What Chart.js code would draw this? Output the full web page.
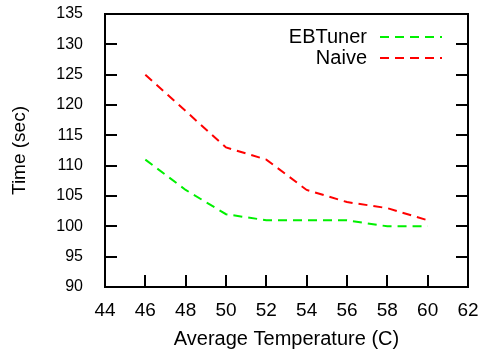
<!DOCTYPE html>
<html>
<head>
<meta charset="utf-8">
<script src="https://cdn.jsdelivr.net/npm/chart.js@4"></script>
<style>
  html, body { margin: 0; padding: 0; background: #fff; }
  #wrap { width: 481px; height: 352px; }
</style>
</head>
<body>
<div id="wrap"><canvas id="chart" width="481" height="352"></canvas></div>
<script>
// 데이터
const temps = [46, 48, 50, 52, 54, 56, 58, 60];
const ebtuner = [111, 106, 102, 101, 101, 101, 100, 100];
const naive = [125, 119, 113, 111, 106, 104, 103, 101];

const FONT = "'Liberation Sans', Arial, sans-serif";

function toPoints(ys) {
    return temps.map((t, i) => ({ x: t, y: ys[i] }));
}

// 테두리 + 안쪽 눈금 (gnuplot 스타일)
const frame = {
    id: 'frame',
    afterDatasetsDraw(chart) {
        const { ctx, chartArea: a, scales } = chart;
        ctx.save();
        ctx.strokeStyle = '#000';
        ctx.lineWidth = 2;
        ctx.strokeRect(a.left, a.top, a.right - a.left, a.bottom - a.top);
        const len = 12;
        ctx.beginPath();
        scales.x.ticks.forEach(t => {
            const px = Math.round(scales.x.getPixelForValue(t.value));
            ctx.moveTo(px, a.bottom);
            ctx.lineTo(px, a.bottom - len);
        });
        scales.y.ticks.forEach(t => {
            const py = Math.round(scales.y.getPixelForValue(t.value));
            ctx.moveTo(a.left, py);
            ctx.lineTo(a.left + len, py);
            ctx.moveTo(a.right, py);
            ctx.lineTo(a.right - len, py);
        });
        ctx.stroke();

        // 범례: 글자 오른쪽에 점선 샘플
        ctx.font = '20px ' + FONT;
        ctx.textAlign = 'right';
        ctx.textBaseline = 'middle';
        chart.data.datasets.forEach((ds, i) => {
            const y = a.top + 23 + i * 21;
            ctx.fillStyle = '#000';
            ctx.fillText(ds.label, a.right - 101, y);
            ctx.strokeStyle = ds.borderColor;
            ctx.lineWidth = 2;
            ctx.setLineDash(ds.borderDash);
            ctx.beginPath();
            ctx.moveTo(a.right - 88, y);
            ctx.lineTo(a.right - 26, y);
            ctx.stroke();
            ctx.setLineDash([]);
        });
        ctx.restore();
    }
};

new Chart(document.getElementById('chart'), {
    type: 'line',
    data: {
        datasets: [
            {
                label: 'EBTuner',
                data: toPoints(ebtuner),
                borderColor: '#00f000',
                borderWidth: 2,
                borderDash: [9, 6],
                pointRadius: 0,
                tension: 0
            },
            {
                label: 'Naive',
                data: toPoints(naive),
                borderColor: '#ff0000',
                borderWidth: 2,
                borderDash: [9, 6],
                pointRadius: 0,
                tension: 0
            }
        ]
    },
    options: {
        responsive: false,
        animation: false,
        layout: { padding: { top: 14, right: 13, left: 0, bottom: 0 } },
        plugins: { legend: { display: false }, tooltip: { enabled: false } },
        scales: {
            x: {
                type: 'linear',
                min: 44,
                max: 62,
                afterFit: s => { s.height = 65; s.paddingLeft = 0; s.paddingRight = 0; },
                ticks: { stepSize: 2, color: '#000', font: { family: FONT, size: 19 }, padding: 12, maxRotation: 0 },
                grid: { display: false, drawTicks: false },
                border: { display: false },
                title: { display: true, text: 'Average Temperature (C)', color: '#000', font: { family: FONT, size: 20 }, padding: { top: 0, bottom: 1 } }
            },
            y: {
                min: 90,
                max: 135,
                afterFit: s => { s.width = 105; s.paddingTop = 0; s.paddingBottom = 0; },
                ticks: { stepSize: 5, color: '#000', font: { family: FONT, size: 16 }, padding: 22 },
                grid: { display: false, drawTicks: false },
                border: { display: false },
                title: { display: true, text: 'Time (sec)', color: '#000', font: { family: FONT, size: 19 }, padding: { top: 8, bottom: 0 } }
            }
        }
    },
    plugins: [frame]
});
</script>
</body>
</html>
